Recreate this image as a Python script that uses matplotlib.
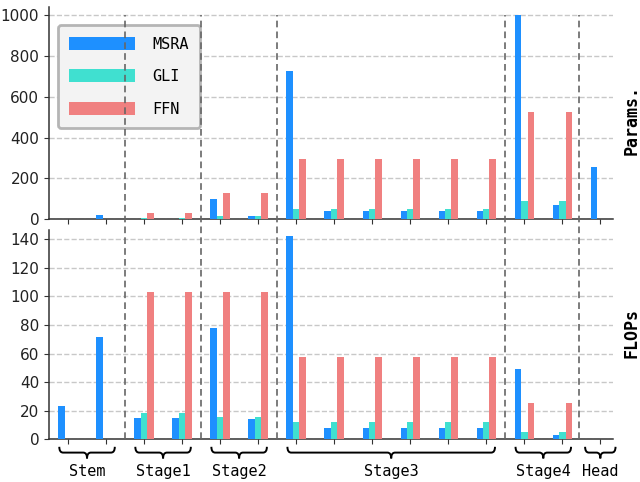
import numpy as np
import matplotlib
matplotlib.use("Agg")
import matplotlib.pyplot as plt
from matplotlib.path import Path
from matplotlib.patches import PathPatch
from matplotlib.lines import Line2D
import matplotlib.transforms as mtransforms

# one position per block, stage order
params_msra = [0, 22, 3, 3, 98, 15, 725, 42, 42, 42, 42, 42, 1000, 70, 257]
params_gli = [0, 0, 4, 4, 18, 18, 50, 50, 50, 50, 50, 50, 88, 88, 0]
params_ffn = [0, 0, 33, 33, 130, 130, 295, 295, 295, 295, 295, 295, 525, 525, 0]

flops_msra = [23.5, 71.5, 15, 15, 77.5, 14, 142, 8, 8, 8, 8, 8, 49, 3.3, 0]
flops_gli = [0, 0, 18.6, 18.6, 15.6, 15.6, 12, 12, 12, 12, 12, 12, 4.9, 4.9, 0]
flops_ffn = [0, 0, 103, 103, 103, 103, 57.8, 57.8, 57.8, 57.8, 57.8, 57.8, 25.6, 25.6, 0]

stage_names = ["Stem", "Stage1", "Stage2", "Stage3", "Stage4", "Head"]
stage_first = [0, 2, 4, 6, 12, 14]
stage_last = [1, 3, 5, 11, 13, 14]
separators = [1.5, 3.5, 5.5, 11.5, 13.45]

series = ["MSRA", "GLI", "FFN"]
colors = ["#1E90FF", "#40E0D0", "#F08080"]
MONO = "DejaVu Sans Mono"


def brace(fig, ax, x0, x1, r=0.1):
    xm = (x0 + x1) / 2
    yt, ym, yb = 0.073, 0.061, 0.049
    verts = [(x0, yt), (x0, ym), (x0 + r, ym), (xm - r, ym), (xm, ym), (xm, yb),
             (xm, ym), (xm + r, ym), (x1 - r, ym), (x1, ym), (x1, yt)]
    codes = [Path.MOVETO, Path.CURVE3, Path.CURVE3, Path.LINETO, Path.CURVE3, Path.CURVE3,
             Path.CURVE3, Path.CURVE3, Path.LINETO, Path.CURVE3, Path.CURVE3]
    trans = mtransforms.blended_transform_factory(ax.transData, fig.transFigure)
    fig.add_artist(PathPatch(Path(verts, codes), transform=trans, fill=False,
                             lw=1.4, edgecolor="black", clip_on=False))


def main():
    fig = plt.figure(figsize=(6.4, 4.82), dpi=100)
    ax1 = fig.add_axes([0.0766, 0.545, 0.881, 0.4405])
    ax2 = fig.add_axes([0.0766, 0.0886, 0.881, 0.434])
    x = np.arange(len(params_msra))
    w = 0.17

    for ax, data, top in [(ax1, [params_msra, params_gli, params_ffn], 1039),
                          (ax2, [flops_msra, flops_gli, flops_ffn], 146.3)]:
        for k, (vals, c, name) in enumerate(zip(data, colors, series)):
            ax.bar(x + (k - 1) * w, vals, w, color=c, label=name, zorder=3)
        ax.set_xlim(-0.5, 14.33)
        ax.set_ylim(0, top)
        ax.set_xticks(x)
        ax.set_xticklabels([])
        ax.grid(axis="y", linestyle="--", color="#c8c8c8", lw=1, zorder=0)
        ax.spines["top"].set_visible(False)
        ax.spines["right"].set_visible(False)
        for s in ["left", "bottom"]:
            ax.spines[s].set_color("#333333")
            ax.spines[s].set_linewidth(1.1)
        ax.tick_params(axis="both", labelsize=11, colors="#333333", labelcolor="#222222")

    ax1.set_yticks([0, 200, 400, 600, 800, 1000])
    ax2.set_yticks([0, 20, 40, 60, 80, 100, 120, 140])

    # stage separators run through both panels
    trans = mtransforms.blended_transform_factory(ax1.transData, fig.transFigure)
    for s in separators:
        fig.add_artist(Line2D([s, s], [0.0886, 0.969], transform=trans, color="#666666",
                              lw=1.2, linestyle=(0, (4, 2.5))))

    for name, a, b in zip(stage_names, stage_first, stage_last):
        if a == b:
            brace(fig, ax2, a - 0.4, b + 0.4)
        else:
            brace(fig, ax2, a - 0.23, b + 0.23)
        fig.text(0, 0.0228, name, transform=trans, fontsize=11, family=MONO,
                 ha="center", va="center")
        fig.texts[-1].set_x((a + b) / 2)

    fig.text(0.9875, 0.751, "Params.", rotation=90, ha="center", va="center",
             fontsize=12, fontweight="bold", family=MONO)
    fig.text(0.9875, 0.309, "FLOPs", rotation=90, ha="center", va="center",
             fontsize=12, fontweight="bold", family=MONO)

    leg = ax1.legend(loc="upper left", bbox_to_anchor=(0.0906, 0.948),
                     bbox_transform=fig.transFigure, borderaxespad=0,
                     prop={"family": MONO, "size": 11}, handlelength=4.3,
                     handleheight=0.92, labelspacing=1.15, handletextpad=1.1,
                     borderpad=0.75, fancybox=True, framealpha=1)
    leg.get_frame().set_facecolor("#f3f3f3")
    leg.get_frame().set_edgecolor("#b5b5b5")
    leg.get_frame().set_linewidth(2)

    fig.savefig("out.png", dpi=100)


if __name__ == "__main__":
    main()
